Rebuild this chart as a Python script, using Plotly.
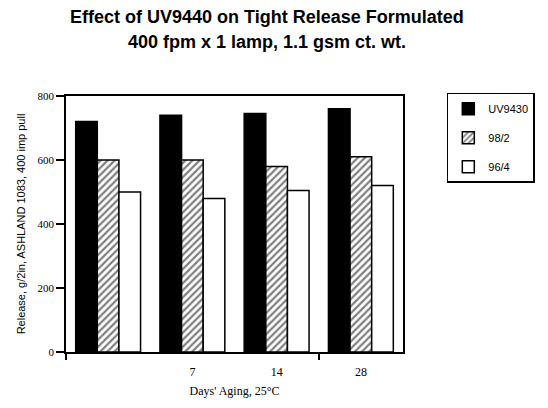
import plotly.graph_objects as go

groups = [0, 1, 2, 3]
group_labels = ["", "7", "14", "28"]
uv9430 = [720, 740, 745, 760]
s98_2 = [600, 600, 580, 610]
s96_4 = [500, 480, 505, 520]
y_ticks = [0, 200, 400, 600, 800]
title_lines = ["Effect of UV9440 on Tight Release Formulated",
               "400 fpm x 1 lamp, 1.1 gsm ct. wt."]

fig = go.Figure()
fig.add_trace(go.Bar(x=groups, y=uv9430, name="UV9430", legendgroup="a",
                     marker=dict(color="black", line=dict(color="black", width=1.5))))
fig.add_trace(go.Bar(x=groups, y=s98_2, name="98/2", legendgroup="b",
                     marker=dict(color="white", line=dict(color="black", width=1.5),
                                 pattern=dict(shape="/", fgcolor="black", bgcolor="white",
                                              size=5, solidity=0.45))))
fig.add_trace(go.Bar(x=groups, y=s96_4, name="96/4", legendgroup="c",
                     marker=dict(color="white", line=dict(color="black", width=1.5))))

for i, line in enumerate(title_lines):
    fig.add_annotation(text="<b>" + line + "</b>", xref="paper", yref="paper",
                       x=(265 - 60) / 343, y=(353 - 17 - 25 * i) / 257,
                       xanchor="center", yanchor="middle", showarrow=False,
                       font=dict(family="Liberation Sans", size=18, color="black"))

fig.update_layout(
    width=540, height=400,
    margin=dict(l=52, r=145, t=88, b=55),
    paper_bgcolor="white", plot_bgcolor="white",
    barmode="group", bargap=0.23, bargroupgap=0,
    showlegend=True,
    legend=dict(x=1.13, xanchor="left", y=1.013, yanchor="top",
                bordercolor="black", borderwidth=1.5, bgcolor="white",
                font=dict(family="Liberation Sans", size=11, color="black"),
                tracegroupgap=10),
    font=dict(family="Liberation Serif", size=11, color="black"),
)
fig.update_xaxes(
    range=[-0.5, 3.5], tickvals=groups, ticktext=group_labels,
    ticks="outside", ticklen=8, tickcolor="rgba(0,0,0,0)",
    showline=True, linecolor="black", linewidth=1.5, mirror=True,
    showgrid=False, zeroline=False,
    minor=dict(tickvals=[-0.5, 2.5], ticks="outside", ticklen=6,
               tickcolor="black", tickwidth=1.5, showgrid=False),
    title=dict(text="Days' Aging, 25°C", standoff=8,
               font=dict(family="Liberation Serif", size=12)),
    tickfont=dict(family="Liberation Serif", size=12),
)
fig.update_yaxes(
    range=[0, 800], tickvals=y_ticks,
    ticks="outside", ticklen=8, tickcolor="black", tickwidth=1.5,
    showline=True, linecolor="black", linewidth=1.5, mirror=True,
    showgrid=False, zeroline=False,
    title=dict(text="Release, g/2in, ASHLAND 1083, 400 imp pull", standoff=10,
               font=dict(family="Liberation Sans", size=11)),
    tickfont=dict(family="Liberation Serif", size=11),
)

fig.write_html("out.html")
